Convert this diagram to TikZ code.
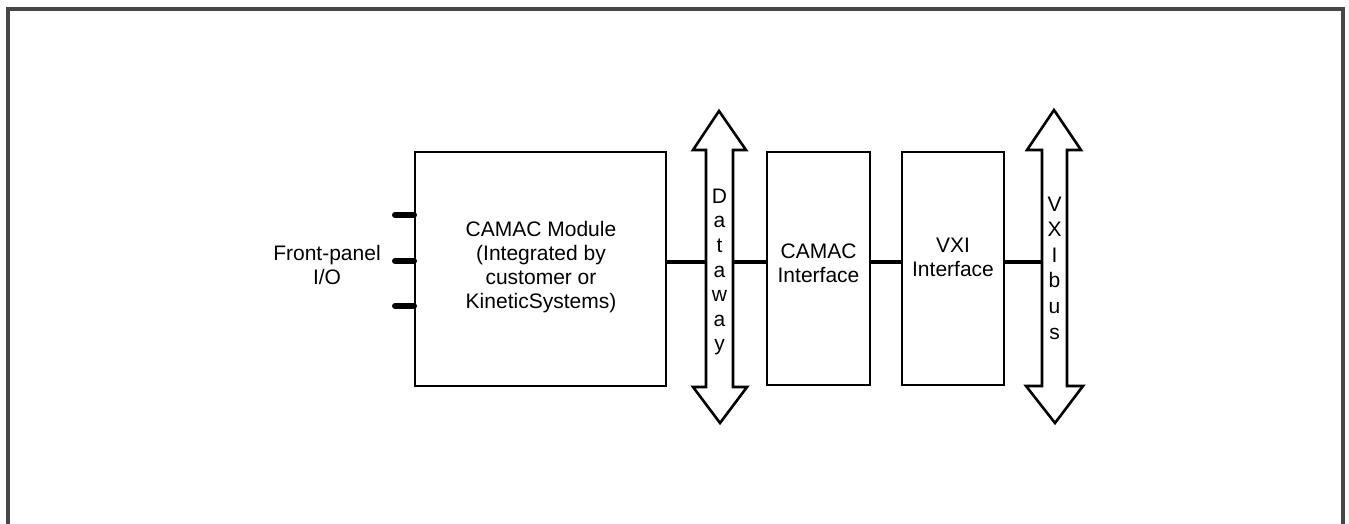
\documentclass[tikz,border=0pt]{standalone}
\usepackage{fontspec}
\setmainfont{Liberation Sans}
\begin{document}
\begin{tikzpicture}[x=1pt,y=-1pt,
  box/.style={draw=black,line width=2pt,rectangle,inner sep=0pt},
  lbl/.style={align=center,inner sep=0pt,font=\fontsize{21}{24}\selectfont},
  vlbl/.style={align=center,inner sep=0pt},
  conn/.style={line width=4pt},
  stub/.style={line width=6pt,line cap=round},
  bus/.style={draw=black,line width=2.6pt,line join=miter,fill=white},
  frame/.style={draw=black!72,line width=4pt}]
\useasboundingbox (0,0) rectangle (1349,523);
\draw[frame] (7.5,560) -- (7.5,8.5) -- (1343,8.5) -- (1343,560);

% boxes
\node[box,minimum width=251pt,minimum height=234pt] (mod) at (540.5,269) {};
\node[box,minimum width=103pt,minimum height=233pt] (ci) at (818.5,268.5) {};
\node[box,minimum width=102pt,minimum height=233pt] (vi) at (953,268.5) {};

% texts
\node[lbl] (modt) at (541,267) {CAMAC Module\\(Integrated by\\customer or\\KineticSystems)};
\node[lbl] (cit) at (818.5,263) {CAMAC\\Interface};
\node[lbl] (vit) at (953,257) {VXI\\Interface};
\node[lbl] (fp) at (327,265) {Front-panel\\I/O};

% Dataway bus arrow
\draw[bus] (719,111) -- (746,150) -- (733,150) -- (733,387) -- (747,387) -- (720,423)
  -- (693,387) -- (706,387) -- (706,150) -- (693,150) -- cycle;
\coordinate (dwL) at (706,262);
\coordinate (dwR) at (733,262);
\node[vlbl,font=\fontsize{21}{24.6}\selectfont] (dwt) at (719.5,272) {D\\a\\t\\a\\w\\a\\y};

% VXIbus arrow
\draw[bus] (1054,110) -- (1081,150) -- (1067,150) -- (1067,386) -- (1083,386) -- (1055,423)
  -- (1026,386) -- (1042,386) -- (1042,150) -- (1027,150) -- cycle;
\coordinate (vbL) at (1042,262);
\node[vlbl,font=\fontsize{21}{25.6}\selectfont] (vbt) at (1054.5,268) {V\\X\\I\\b\\u\\s};

% front panel stubs
\coordinate (io1) at (395,215);
\coordinate (io2) at (395,261);
\coordinate (io3) at (395,306);
\draw[stub] (io1) -- (mod.west |- io1);
\draw[stub] (io2) -- (mod.west |- io2);
\draw[stub] (io3) -- (mod.west |- io3);

% connectors
\draw[conn] (mod.east |- dwL) -- (dwL);
\draw[conn] (dwR) -- (ci.west |- dwR);
\draw[conn] (ci.east |- dwR) -- (vi.west |- dwR);
\draw[conn] (vi.east |- vbL) -- (vbL);
\end{tikzpicture}
\end{document}
